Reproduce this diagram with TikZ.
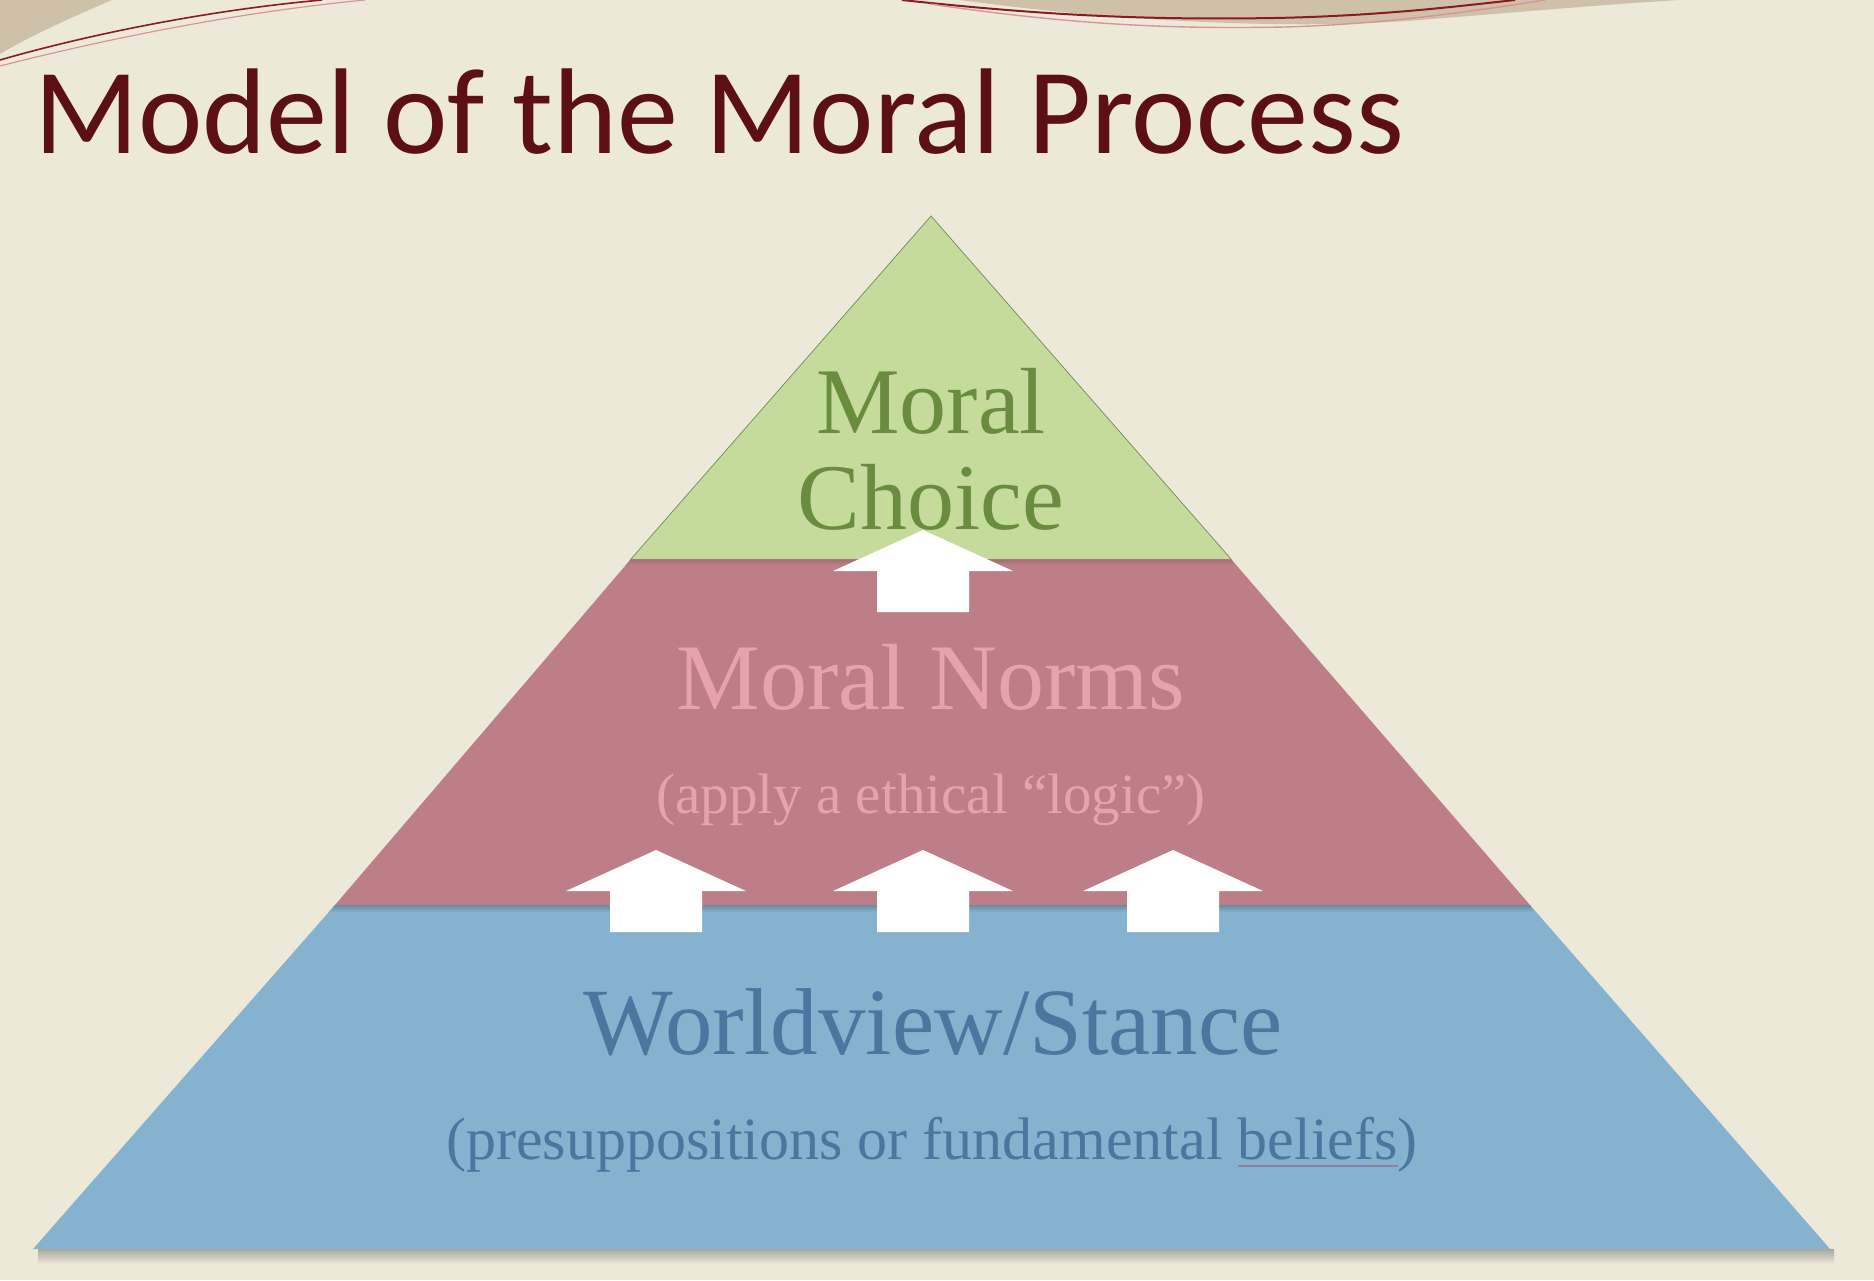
\documentclass[tikz,border=0pt]{standalone}
\usepackage{fontspec}
\usepackage{calc}
\setmainfont{Liberation Serif}
\newfontfamily\titlefont{Carlito}

\definecolor{paper}{HTML}{ECE9D9}
\definecolor{tan}{HTML}{CFC0A9}
\definecolor{wire}{HTML}{8B1A22}
\definecolor{wirelight}{HTML}{D8949B}
\definecolor{titlecol}{HTML}{5C0F16}
\definecolor{tiergreen}{HTML}{C5DB9C}
\definecolor{tierred}{HTML}{BE7E87}
\definecolor{tierblue}{HTML}{85B2CF}
\definecolor{txtgreen}{HTML}{6A8C3E}
\definecolor{txtpink}{HTML}{E5A3AD}
\definecolor{txtblue}{HTML}{4A76A0}
\definecolor{ulc}{HTML}{8E7FA8}

\newcommand\lineunder[1]{\leavevmode\rlap{\textcolor{ulc}{\rule[-8pt]{\widthof{#1}}{1.6pt}}}#1}

\tikzset{
  tier/.style={draw=none},
  lbl/.style={anchor=base, inner sep=0pt, outer sep=0pt},
  heading/.style={lbl, font=\fontsize{94}{100}\selectfont},
  blockarrow/.pic={
    \fill[white] (-46,0) -- (-46,-41) -- (-90,-41) -- (0,-82) -- (90,-41) -- (46,-41) -- (46,0) -- cycle;
  }
}

\begin{document}
\begin{tikzpicture}[x=1pt,y=-1pt]
  % page
  \fill[paper] (0,0) rectangle (1874,1280);
  \useasboundingbox (0,0) rectangle (1874,1280);

  % decorative corner swooshes
  \fill[tan] (0,0) -- (112,0) .. controls (70,18) and (30,36) .. (0,54) -- cycle;
  \fill[tan] (960,0) .. controls (1120,22) and (1300,30) .. (1420,20)
                    .. controls (1520,12) and (1610,4) .. (1680,0) -- cycle;
  \draw[wire, line width=1.6pt] (0,60) .. controls (90,34) and (210,10) .. (322,0);
  \draw[wirelight, line width=1.2pt] (0,66) .. controls (110,38) and (240,12) .. (365,0);
  \draw[wire, line width=2pt] (902,0) .. controls (1050,16) and (1150,20) .. (1274,18)
                              .. controls (1380,16) and (1460,6) .. (1515,0);
  \draw[wirelight, line width=1.4pt] (930,4) .. controls (1080,26) and (1180,29) .. (1285,27)
                              .. controls (1390,24) and (1480,10) .. (1545,0);

  % title
  \node[anchor=base west, inner sep=0pt, text=titlecol, font=\titlefont\fontsize{122}{128}\selectfont]
    (title) at (34,153) {Model of the Moral Process};

  % soft shadow beneath the base
  \shade[top color=black!28!paper, bottom color=paper] (38,1249) rectangle (1834,1264);

  % pyramid tiers
  \fill[tierblue] (33,1249) -- (335,905) -- (1530,905) -- (1830,1249) -- cycle;
  \shade[top color=black!22!tierblue, bottom color=tierblue] (335,905) -- (1530,905) -- (1534,912) -- (329,912) -- cycle;
  \fill[tierred] (335,905) -- (631,559) -- (1231,559) -- (1530,905) -- cycle;
  \shade[top color=black!14!tierred, bottom color=tierred] (631,559) -- (1231,559) -- (1235,565) -- (626,565) -- cycle;
  \fill[tiergreen] (631,559) -- (931,216) -- (1231,559) -- cycle;
  \draw[black!35!tiergreen, line width=0.8pt] (631,559) -- (931,216) -- (1231,559);

  % labels
  \node[heading, text=txtgreen] (choiceA) at (931,433) {Moral};
  \node[heading, text=txtgreen] (choiceB) at (931,529) {Choice};
  \node[heading, text=txtpink] (norms) at (931,709) {Moral Norms};
  \node[lbl, text=txtpink, font=\fontsize{57}{62}\selectfont] (normsub) at (931,813)
    {(apply a ethical “logic”)};
  \node[heading, text=txtblue, font=\fontsize{95}{100}\selectfont] (world) at (933,1054) {Worldview/Stance};
  \node[lbl, text=txtblue, font=\fontsize{60}{64}\selectfont] (worldsub) at (932,1159)
    {(presuppositions or fundamental \lineunder{beliefs})};

  % upward block arrows
  \pic at (923,612) {blockarrow};
  \pic at (656,932) {blockarrow};
  \pic at (923,932) {blockarrow};
  \pic at (1173,932) {blockarrow};
\end{tikzpicture}
\end{document}
